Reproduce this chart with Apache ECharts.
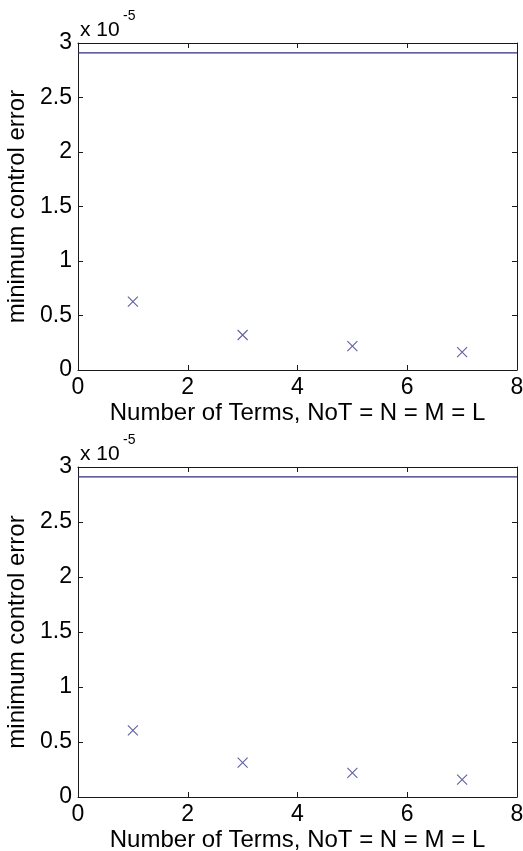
<!DOCTYPE html>
<html>
<head>
<meta charset="utf-8">
<script src="https://cdn.jsdelivr.net/npm/echarts@6/dist/echarts.min.js"></script>
<style>html,body{margin:0;padding:0;background:#fff;}#c{width:523px;height:851px;}</style>
</head>
<body>
<div id="c"></div>
<script>
// values in units of 1e-5
var nTerms = [1, 3, 5, 7];
var errTop = [0.627, 0.321, 0.22, 0.165];
var errBottom = [0.606, 0.313, 0.22, 0.158];
var boundTop = 2.91;
var boundBottom = 2.91;
var xTicks = [0, 2, 4, 6, 8];
var yTicks = [0, 0.5, 1, 1.5, 2, 2.5, 3];
var xTitle = 'Number of Terms, NoT = N = M = L';
var yTitle = 'minimum control error';
var expBase = 'x 10';
var expPow = '-5';

var FONT = 'Liberation Sans';
var AX = '#1a1a1a';
var MK = '#3a3a8c';
var LN = '#2e2e7e';

function pairs(xs, ys){ return xs.map(function(x,i){ return [x, ys[i]]; }); }

function xAxes(gi){
  var common = {
    gridIndex: gi, type: 'value', min: xTicks[0], max: xTicks[xTicks.length-1], interval: 2,
    axisLine: {show: true, onZero: false, lineStyle: {color: AX, width: 1}},
    axisTick: {show: true, inside: true, length: 5, lineStyle: {color: AX}},
    splitLine: {show: false}
  };
  var bottom = Object.assign({}, common, {
    position: 'bottom',
    axisLabel: {show: true, color: '#000', fontFamily: FONT, fontSize: 23, margin: 6},
    name: xTitle, nameLocation: 'middle', nameGap: 31,
    nameTextStyle: {color: '#000', fontFamily: FONT, fontSize: 24}
  });
  var top = Object.assign({}, common, {position: 'top', axisLabel: {show: false}});
  return [bottom, top];
}
function yAxes(gi){
  var common = {
    gridIndex: gi, type: 'value', min: yTicks[0], max: yTicks[yTicks.length-1], interval: 0.5,
    axisLine: {show: true, onZero: false, lineStyle: {color: AX, width: 1}},
    axisTick: {show: true, inside: true, length: 5, lineStyle: {color: AX}},
    splitLine: {show: false}
  };
  var left = Object.assign({}, common, {
    position: 'left',
    axisLabel: {show: true, color: '#000', fontFamily: FONT, fontSize: 23, margin: 6,
      formatter: function(v){ return String(v); }},
    name: yTitle, nameLocation: 'middle', nameGap: 46,
    nameTextStyle: {color: '#000', fontFamily: FONT, fontSize: 24}
  });
  var right = Object.assign({}, common, {position: 'right', axisLabel: {show: false}});
  return [left, right];
}

var xs0 = xAxes(0), xs1 = xAxes(1), ys0 = yAxes(0), ys1 = yAxes(1);
var crossPath = 'path://M0,0L10,10M10,0L0,10';

function seriesFor(xi, yi, vals, bound){
  return [
    {type: 'line', xAxisIndex: xi, yAxisIndex: yi, data: [[xTicks[0], bound],[xTicks[xTicks.length-1], bound]],
      symbol: 'none', lineStyle: {color: LN, width: 1.2}, silent: true, animation: false},
    {type: 'scatter', xAxisIndex: xi, yAxisIndex: yi, data: pairs(nTerms, vals),
      symbol: crossPath, symbolSize: 10,
      itemStyle: {color: 'none', borderColor: MK, borderWidth: 1.1}, animation: false}
  ];
}

var chart = echarts.init(document.getElementById('c'), null, {renderer: 'canvas'});
chart.setOption({
  backgroundColor: '#fff',
  animation: false,
  grid: [
    {left: 78, top: 43, width: 439, height: 327, containLabel: false, outerBoundsMode: 'none'},
    {left: 78, top: 467, width: 439, height: 330, containLabel: false, outerBoundsMode: 'none'}
  ],
  xAxis: [xs0[0], xs0[1], xs1[0], xs1[1]],
  yAxis: [ys0[0], ys0[1], ys1[0], ys1[1]],
  series: seriesFor(0, 0, errTop, boundTop).concat(seriesFor(2, 2, errBottom, boundBottom)),
  graphic: [
    {type: 'text', left: 80, top: 20, style: {text: expBase, fontFamily: FONT, fontSize: 21, fill: '#000'}},
    {type: 'text', left: 123, top: 9, style: {text: expPow, fontFamily: FONT, fontSize: 14, fill: '#000'}},
    {type: 'text', left: 80, top: 444, style: {text: expBase, fontFamily: FONT, fontSize: 21, fill: '#000'}},
    {type: 'text', left: 123, top: 433, style: {text: expPow, fontFamily: FONT, fontSize: 14, fill: '#000'}}
  ]
});
</script>
</body>
</html>
